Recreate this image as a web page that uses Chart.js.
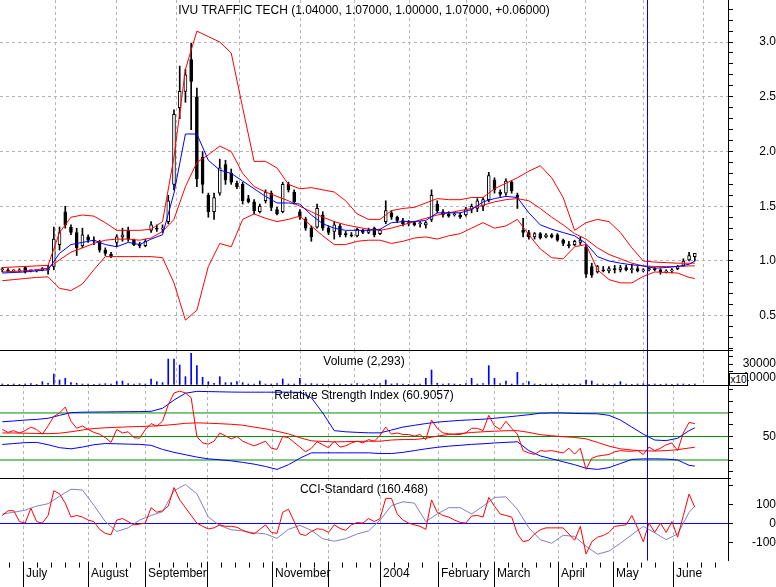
<!DOCTYPE html>
<html>
<head>
<meta charset="utf-8">
<title>IVU Traffic Tech</title>
<script src="https://cdn.jsdelivr.net/npm/chart.js@4.4.0/dist/chart.umd.min.js"></script>
<style>
  html, body { margin: 0; padding: 0; background: #fff; overflow: hidden; }
  #wrap { position: relative; width: 776px; height: 587px; font-family: "Liberation Sans", Arial, sans-serif; }
  #wrap canvas { position: absolute; left: 0; }
  .lbl { position: absolute; left: 0; width: 728px; text-align: center; font-size: 12px; line-height: 14px; color: #000; white-space: nowrap; }
  #x10 { position: absolute; left: 729px; top: 373px; width: 17px; height: 11px; border: 1px solid #000; background: #fff;
         font-size: 10px; line-height: 11px; text-align: center; color: #000; }
</style>
</head>
<body>
<div id="wrap">
  <canvas id="cPrice" width="776" height="350" style="top:0px"></canvas>
  <canvas id="cVol" width="776" height="35" style="top:350px"></canvas>
  <canvas id="cRsi" width="776" height="93" style="top:385px"></canvas>
  <canvas id="cCci" width="776" height="109" style="top:478px"></canvas>
  <div class="lbl" style="top:3px">IVU TRAFFIC TECH (1.04000, 1.07000, 1.00000, 1.07000, +0.06000)</div>
  <div class="lbl" style="top:354px">Volume (2,293)</div>
  <div class="lbl" style="top:388px">Relative Strength Index (60.9057)</div>
  <div class="lbl" style="top:482px">CCI-Standard (160.468)</div>
  <div id="x10">x10</div>
</div>
<script>
// ---- data (one bar = two trading days, Jun 2003 - Jun 2004) ----
const monthStarts = [3.62, 14.98, 24.94, 35.77, 47.13, 56.91, 66.0, 76.13, 85.92, 97.1, 106.71, 117.2]
const monthLabels = ['July', 'August', 'September', '', 'November', '', '2004', 'February', 'March', 'April', 'May', 'June']
const cursorIdx = 112.56

const openP = [0.92,0.92,0.91,0.91,0.94,0.91,0.91,0.92,0.92,0.95,1.15,1.45,1.31,1.26,1.14,1.22,1.19,1.18,1.10,1.06,
  1.17,1.22,1.28,1.19,1.15,1.14,1.28,1.30,1.29,1.36,1.70,2.40,2.55,2.84,2.50,1.95,1.60,1.45,1.62,1.88,
  1.80,1.71,1.70,1.57,1.54,1.45,1.55,1.62,1.47,1.45,1.70,1.63,1.45,1.38,1.30,1.31,1.42,1.30,1.27,1.32,
  1.25,1.24,1.23,1.28,1.26,1.30,1.25,1.36,1.44,1.40,1.37,1.34,1.35,1.34,1.33,1.38,1.52,1.45,1.43,1.42,
  1.42,1.42,1.47,1.48,1.50,1.56,1.74,1.63,1.62,1.72,1.60,1.28,1.26,1.22,1.25,1.22,1.24,1.24,1.19,1.15,
  1.15,1.17,1.13,0.95,0.90,0.92,0.91,0.93,0.92,0.94,0.92,0.93,0.91,0.92,0.93,0.92,0.90,0.91,0.93,0.96,
  1.01,1.04]
const highP = [0.94,0.93,0.92,0.93,0.95,0.92,0.92,0.94,0.96,1.31,1.31,1.50,1.33,1.30,1.30,1.24,1.22,1.19,1.12,1.08,
  1.24,1.30,1.31,1.20,1.17,1.20,1.36,1.33,1.33,1.60,2.38,2.78,2.75,2.99,2.58,2.00,1.62,1.62,1.93,1.92,
  1.84,1.73,1.72,1.60,1.56,1.52,1.65,1.64,1.49,1.72,1.72,1.65,1.47,1.40,1.32,1.52,1.45,1.32,1.36,1.34,
  1.27,1.26,1.30,1.29,1.30,1.31,1.29,1.55,1.46,1.41,1.39,1.37,1.36,1.36,1.36,1.65,1.55,1.47,1.45,1.44,
  1.44,1.49,1.52,1.57,1.58,1.81,1.76,1.65,1.75,1.73,1.62,1.39,1.28,1.26,1.26,1.25,1.25,1.25,1.20,1.18,
  1.19,1.22,1.15,0.98,0.96,0.95,0.95,0.96,0.96,0.96,0.97,0.95,0.93,0.94,0.94,0.93,0.92,0.93,0.96,1.02,
  1.08,1.07]
const lowP = [0.90,0.90,0.90,0.90,0.89,0.90,0.90,0.91,0.88,0.92,1.10,1.30,1.24,1.05,1.12,1.17,1.15,1.08,1.05,1.03,
  1.13,1.18,1.18,1.14,1.12,1.13,1.26,1.27,1.26,1.34,1.65,2.30,2.45,2.20,1.68,1.62,1.40,1.38,1.60,1.70,
  1.70,1.66,1.52,1.53,1.43,1.44,1.53,1.46,1.42,1.44,1.63,1.52,1.38,1.28,1.18,1.30,1.28,1.24,1.20,1.22,
  1.22,1.22,1.22,1.25,1.25,1.22,1.24,1.34,1.38,1.35,1.32,1.32,1.32,1.31,1.30,1.36,1.44,1.40,1.40,1.41,
  1.39,1.41,1.44,1.45,1.46,1.54,1.62,1.59,1.60,1.62,1.48,1.22,1.20,1.20,1.20,1.21,1.21,1.18,1.14,1.12,
  1.14,1.15,0.85,0.85,0.89,0.90,0.89,0.89,0.90,0.91,0.89,0.90,0.90,0.91,0.91,0.88,0.89,0.89,0.92,0.95,
  1.00,1.00]
const closeP = [0.92,0.91,0.91,0.92,0.90,0.91,0.91,0.93,0.93,1.20,1.26,1.33,1.26,1.12,1.24,1.19,1.18,1.10,1.07,1.04,
  1.22,1.24,1.20,1.15,1.14,1.18,1.33,1.29,1.30,1.55,2.34,2.55,2.70,2.64,1.75,1.70,1.45,1.58,1.85,1.74,
  1.72,1.68,1.55,1.54,1.46,1.50,1.63,1.49,1.43,1.70,1.65,1.54,1.40,1.30,1.22,1.48,1.30,1.26,1.33,1.24,
  1.24,1.23,1.29,1.26,1.28,1.24,1.28,1.46,1.40,1.37,1.34,1.35,1.33,1.34,1.35,1.60,1.46,1.42,1.41,1.43,
  1.40,1.47,1.50,1.55,1.56,1.78,1.65,1.61,1.73,1.64,1.58,1.26,1.22,1.25,1.21,1.24,1.22,1.19,1.16,1.14,
  1.18,1.19,0.88,0.87,0.95,0.91,0.93,0.92,0.94,0.92,0.93,0.91,0.92,0.93,0.92,0.90,0.91,0.92,0.95,1.00,
  1.05,1.07]
const volume = [1400,950,1400,950,1400,1900,950,4700,2400,15700,7100,9500,3300,2400,1400,1400,950,1400,1900,1400,
  4760,5700,1900,1400,1900,1400,8600,4700,3300,37100,37100,28600,11900,45200,27600,11000,4760,2400,11900,3300,
  3300,4760,3300,1400,1400,5700,1400,1400,1900,8600,1400,1400,9500,1400,1900,1400,1400,950,1400,1400,
  950,1400,1900,1400,950,1400,1900,7100,1400,1900,1400,950,1400,1400,9500,21400,2400,1400,1900,1400,
  950,1900,9500,1400,1900,27600,9500,1900,5700,1400,18100,1900,4760,1400,950,1400,1400,950,1400,1400,
  950,1400,7100,5700,1400,1400,950,1400,4760,1400,950,1400,1900,950,1400,950,1400,950,1400,1400,
  950,1400]

// indicator sample positions (bar index)
const indIdx = [0,2,4,6,8,10,12,14,16,18,20,22,24,26,28,30,32,34,36,38,40,42,44,46,48,50,52,54,56,58,
  60,62,64,66,68,70,72,74,76,78,80,82,84,86,88,90,92,94,96,98,100,102,104,106,108,110,112,114,116,118,120,121]
const bbUpper = [0.94,0.945,0.95,0.955,0.96,1.26,1.40,1.42,1.41,1.35,1.28,1.28,1.28,1.29,1.36,1.95,2.75,3.10,3.05,3.00,
  2.90,2.40,1.91,1.91,1.85,1.70,1.66,1.67,1.65,1.63,1.55,1.43,1.38,1.38,1.46,1.48,1.49,1.53,1.57,1.56,
  1.56,1.58,1.58,1.66,1.71,1.76,1.82,1.87,1.76,1.58,1.28,1.35,1.38,1.36,1.26,1.12,1.00,0.99,0.985,0.98,0.98,0.98]
const bbMid = [0.90,0.905,0.91,0.92,0.935,1.01,1.08,1.12,1.16,1.19,1.20,1.20,1.19,1.21,1.27,1.38,1.68,1.90,1.97,2.05,
  2.00,1.80,1.68,1.63,1.59,1.55,1.50,1.45,1.40,1.36,1.33,1.31,1.29,1.28,1.30,1.33,1.36,1.39,1.42,1.44,
  1.46,1.48,1.51,1.54,1.56,1.57,1.55,1.48,1.40,1.33,1.25,1.20,1.12,1.06,1.02,0.98,0.955,0.95,0.95,0.95,0.955,0.955]
const bbLower = [0.82,0.83,0.84,0.85,0.855,0.75,0.73,0.79,0.92,1.04,1.04,1.04,1.04,1.04,1.03,0.80,0.46,0.55,0.95,1.16,
  1.13,1.38,1.43,1.39,1.36,1.38,1.41,1.32,1.23,1.15,1.15,1.18,1.19,1.19,1.16,1.18,1.21,1.22,1.20,1.23,
  1.25,1.30,1.35,1.30,1.32,1.38,1.24,1.11,1.03,1.02,1.13,1.15,0.92,0.83,0.80,0.80,0.86,0.90,0.895,0.89,0.85,0.84]
const maBlue = [0.89,0.895,0.90,0.91,0.92,1.07,1.15,1.17,1.19,1.15,1.13,1.17,1.15,1.20,1.24,1.62,2.16,2.16,1.92,1.83,
  1.80,1.73,1.66,1.59,1.53,1.53,1.52,1.42,1.34,1.30,1.28,1.28,1.28,1.29,1.35,1.36,1.36,1.37,1.44,1.44,
  1.44,1.47,1.54,1.57,1.59,1.58,1.44,1.33,1.29,1.26,1.23,1.16,1.04,1.00,0.98,0.965,0.955,0.935,0.94,0.95,0.97,1.00]

const rsi = [56,53.5,55,53,55,58,56,52,59,67,70,75,63,57,59,56,53.5,52,49,45,
  56,53,54,49,48.5,56,61,58.8,63,77,87,88.6,87,83,50,44.5,43.5,46,53,50.5,
  48,50,46,44,42,44,46,40,39,50,49,45,41,37,40,45.5,43,40.4,46,41,
  42,44.5,46,44.6,47.4,46,51,58,52,53,51.7,51.7,50.3,51.7,47.4,64,57,53,52.3,51.7,
  51.7,53.1,57,57,55,68,59,56,63,57,52,38,36,34.7,38,37.5,38,37,36,40,
  35,40,22,31.5,33.3,34,34.7,37,38,37.5,37.5,38,34.7,41,38,40,43,44.5,38,53,
  62,60.9]
const rsiAvg = [53,53,52.8,52.6,52.4,52.8,54,55.5,56.8,57.4,57.8,58.2,58.5,58.8,59.4,60.2,61.2,61.6,61.3,60.9,
  60.4,59.6,58,56.5,54.5,52.2,49,46.3,45.8,45.4,45.6,45.8,46,46,47,47.4,47.4,48.5,50.3,51.7,
  52.5,53.4,54,54.5,54.9,55,53.5,51.6,50.6,49.8,49.2,48,45,41.8,39.5,38.5,37.8,37.6,38,38.8,40.2,40.9]
const rsiUpper = [62.5,63.2,64,64.5,65.5,68,70.3,70.7,70.8,70.9,71,71.1,71.2,71.4,74,81,86.8,88.4,88.2,88,
  87.8,87.7,87.7,87.7,87.7,87.7,87.5,83,70,55,54,53.5,53.1,53.1,55.5,58,59.5,61,62.2,63,
  63.7,64.2,64.7,65.5,66.5,67.5,68.5,69.8,70.1,70,69.6,69.4,69.3,68,64,58,52,47,46.5,48.5,55,57.4]
const rsiLower = [43.2,44,44.8,45,43,40.5,39.5,41,43,44,43.8,43.5,43.3,42.5,39,36.5,34.5,32.5,31,30.2,
  29.3,28,26.5,24.5,22,26,31.5,36.1,36.1,36.1,36.1,36.1,36.1,35.5,35.5,36.5,38,39.5,40.8,41.8,
  42.5,43.3,43.8,44.5,45,45.5,38,33.5,31,28.5,26,23,22,23.5,27,30.5,31,31,30.8,30,25.5,24.8]
const rsiLevels = [30, 50, 70]

const cci = [42,67,67,10,2,80,10,2,42,172,156,107,34,42,34,18,10,-31,-52,-59,
  18,26,10,-7,-3,2,83,59,67,91,189,124,83,42,2,-15,-28,-23,-7,-15,
  -15,-20,-36,-47,-55,-31,-7,-47,-52,59,75,10,-55,-63,-42,-28,-31,-47,-7,-26,
  -36,-7,5,2,26,10,26,132,132,50,18,2,-7,-15,-31,124,59,42,34,18,
  6,2,39,42,34,137,91,50,42,34,-55,-96,-88,-55,-33,-23,-23,-23,-23,-55,
  -88,-15,-161,-96,-72,-63,-47,-15,-11,-7,42,-23,-96,2,-47,2,-47,10,-72,42,
  155,85]
const cciSignal = [50,59,70,91,104,143,180,176,96,10,-42,-23,18,42,62,172,205,156,34,-11,
  -33,-39,-49,-55,-78,-31,-10,-36,-80,-93,-80,-55,-39,18,94,114,107,10,50,83,
  83,50,91,137,140,75,-23,-85,-104,-62,-68,-120,-161,-145,-104,-59,-15,-49,-85,-55,59,91]
const cciLevels = [0]

// ---- layout helpers ----
const xMin = -0.4, xMax = 126.8
const gridGray = '#b4b4b4'
Chart.defaults.font.family = '"Liberation Sans", Arial, sans-serif'
Chart.defaults.font.size = 12
Chart.defaults.color = '#000'

const barIdx = openP.map((_, i) => i)
const minorTicks = []
monthStarts.forEach((m, k) => {
  const next = k < monthStarts.length - 1 ? monthStarts[k + 1] : xMax
  for (let v = m - 2.45; v > (k === 0 ? xMin : monthStarts[k - 1]) + 1; v -= 2.45) if (k === 0) minorTicks.push(v)
  for (let v = m + 2.45; v < next - 1; v += 2.45) minorTicks.push(v)
})

const isHalf = v => Math.abs(v * 2 - Math.round(v * 2)) < 1e-6
const fitRight = s => { s.width = 48; s.paddingTop = 0; s.paddingBottom = 0 }

function xAxis(labels) {
  return {
    type: 'linear', min: xMin, max: xMax, offset: false,
    afterBuildTicks: s => { s.ticks = monthStarts.map(v => ({ value: v })) },
    afterFit: s => { s.paddingLeft = 0; s.paddingRight = 0 },
    grid: { color: gridGray, drawTicks: false },
    border: { display: false, dash: [3, 3] },
    ticks: labels
      ? { display: true, autoSkip: false, maxRotation: 0, align: 'start', labelOffset: 3, padding: 6,
          callback: (v, i) => monthLabels[i] }
      : { display: false }
  }
}

function lineSet(xs, ys, color) {
  return { type: 'line', data: xs.map((x, i) => ({ x: x, y: ys[i] })), borderColor: color,
    borderWidth: 1, pointRadius: 0, tension: 0, fill: false }
}
function levelSet(level, color) {
  return lineSet([xMin, xMax], [level, level], color)
}

const cursorLine = {
  id: 'cursorLine',
  afterDatasetsDraw(chart) {
    const { ctx, chartArea: a, scales: { x } } = chart
    const px = Math.round(x.getPixelForValue(cursorIdx)) + 0.5
    ctx.save()
    ctx.strokeStyle = '#0000ff'
    ctx.lineWidth = 1
    ctx.beginPath(); ctx.moveTo(px, a.top); ctx.lineTo(px, a.bottom); ctx.stroke()
    ctx.restore()
  }
}
const topRule = {
  id: 'topRule',
  afterDraw(chart) {
    const { ctx, chartArea: a } = chart
    ctx.save()
    ctx.strokeStyle = '#000'
    ctx.lineWidth = 1
    ctx.beginPath(); ctx.moveTo(0, a.top + 0.5); ctx.lineTo(a.right + 3, a.top + 0.5); ctx.stroke()
    ctx.restore()
  }
}
const dateTicks = {
  id: 'dateTicks',
  afterDraw(chart) {
    const { ctx, chartArea: a, scales: { x } } = chart
    ctx.save()
    ctx.strokeStyle = '#000'
    ctx.lineWidth = 1
    ctx.beginPath()
    monthStarts.forEach(v => {
      const px = Math.round(x.getPixelForValue(v)) + 0.5
      ctx.moveTo(px, a.bottom + 1); ctx.lineTo(px, chart.height)
    })
    minorTicks.forEach(v => {
      const px = Math.round(x.getPixelForValue(v)) + 0.5
      ctx.moveTo(px, a.bottom + 2); ctx.lineTo(px, a.bottom + 7)
    })
    ctx.stroke()
    ctx.restore()
  }
}

const base = {
  responsive: false, animation: false, events: [],
  layout: { padding: 0 },
  plugins: { legend: { display: false }, tooltip: { enabled: false } }
}

// ---- price panel ----
new Chart(document.getElementById('cPrice'), {
  type: 'line',
  data: {
    datasets: [
      lineSet(indIdx, maBlue, '#0000ff'),
      lineSet(indIdx, bbUpper, '#ff0000'),
      lineSet(indIdx, bbMid, '#ff0000'),
      lineSet(indIdx, bbLower, '#ff0000'),
      { type: 'bar', stack: 'candle', data: barIdx.map(i => ({ x: i, y: [openP[i], closeP[i]] })),
        backgroundColor: c => closeP[c.dataIndex] >= openP[c.dataIndex] ? '#ffffff' : '#000000',
        borderColor: '#000', borderWidth: 1, borderSkipped: false, barThickness: 3, minBarLength: 1 },
      { type: 'bar', stack: 'candle', data: barIdx.map(i => ({ x: i, y: [lowP[i], highP[i]] })),
        backgroundColor: '#000', borderWidth: 0, barThickness: 1, minBarLength: 1 }
    ]
  },
  options: Object.assign({}, base, {
    scales: {
      x: xAxis(false),
      y: {
        type: 'linear', position: 'right', min: 0.187, max: 3.384, stacked: false,
        afterFit: fitRight,
        border: { display: true, color: '#000', dash: [3, 3] },
        grid: { color: c => (c.tick && isHalf(c.tick.value)) ? gridGray : 'rgba(0,0,0,0)', tickColor: '#000', tickLength: 5 },
        ticks: { stepSize: 0.1, autoSkip: false, includeBounds: false, crossAlign: 'far', padding: 23,
          callback: v => isHalf(v) ? v.toFixed(1) : '' }
      }
    }
  }),
  plugins: [cursorLine]
})

// ---- volume panel ----
new Chart(document.getElementById('cVol'), {
  type: 'line',
  data: {
    datasets: [
      { type: 'bar', data: barIdx.map(i => ({ x: i, y: volume[i] })), backgroundColor: '#0000ff',
        borderWidth: 0, barThickness: 1 }
    ]
  },
  options: Object.assign({}, base, {
    scales: {
      x: xAxis(false),
      y: {
        type: 'linear', position: 'right', min: 0, max: 50000,
        afterFit: fitRight,
        border: { display: true, color: '#000' },
        grid: { drawOnChartArea: false, tickColor: '#000', tickLength: 5 },
        ticks: { stepSize: 10000, autoSkip: false, includeBounds: false, crossAlign: 'far', padding: 7,
          callback: v => (v === 30000 || v === 10000) ? String(v) : '' }
      }
    }
  }),
  plugins: [cursorLine, topRule]
})

// ---- RSI panel ----
new Chart(document.getElementById('cRsi'), {
  type: 'line',
  data: {
    datasets: [
      lineSet(barIdx, rsi, '#ff0000'),
      lineSet(indIdx, rsiAvg, '#ff0000'),
      lineSet(indIdx, rsiUpper, '#0000ff'),
      lineSet(indIdx, rsiLower, '#0000ff'),
      ...rsiLevels.map(lv => levelSet(lv, '#008c00'))
    ]
  },
  options: Object.assign({}, base, {
    scales: {
      x: xAxis(false),
      y: {
        type: 'linear', position: 'right', min: 14.7, max: 93.8,
        afterFit: fitRight,
        border: { display: true, color: '#000' },
        grid: { drawOnChartArea: false, tickColor: '#000', tickLength: 5 },
        ticks: { stepSize: 10, autoSkip: false, includeBounds: false, crossAlign: 'far', padding: 27,
          callback: v => v === 50 ? '50' : '' }
      }
    }
  }),
  plugins: [cursorLine, topRule]
})

// ---- CCI panel + date axis ----
new Chart(document.getElementById('cCci'), {
  type: 'line',
  data: {
    datasets: [
      lineSet(barIdx, cci, '#ff0000'),
      lineSet(indIdx, cciSignal, '#7f7fc4'),
      ...cciLevels.map(lv => levelSet(lv, '#0000ff'))
    ]
  },
  options: Object.assign({}, base, {
    scales: {
      x: xAxis(true),
      y: {
        type: 'linear', position: 'right', min: -195, max: 239,
        afterFit: fitRight,
        border: { display: true, color: '#000' },
        grid: { drawOnChartArea: false, tickColor: '#000', tickLength: 5 },
        ticks: { stepSize: 100, autoSkip: false, includeBounds: false, crossAlign: 'far', padding: 16,
          callback: v => (v === 100 || v === 0 || v === -100) ? String(v) : '' }
      }
    }
  }),
  plugins: [cursorLine, topRule, dateTicks]
})
</script>
</body>
</html>
